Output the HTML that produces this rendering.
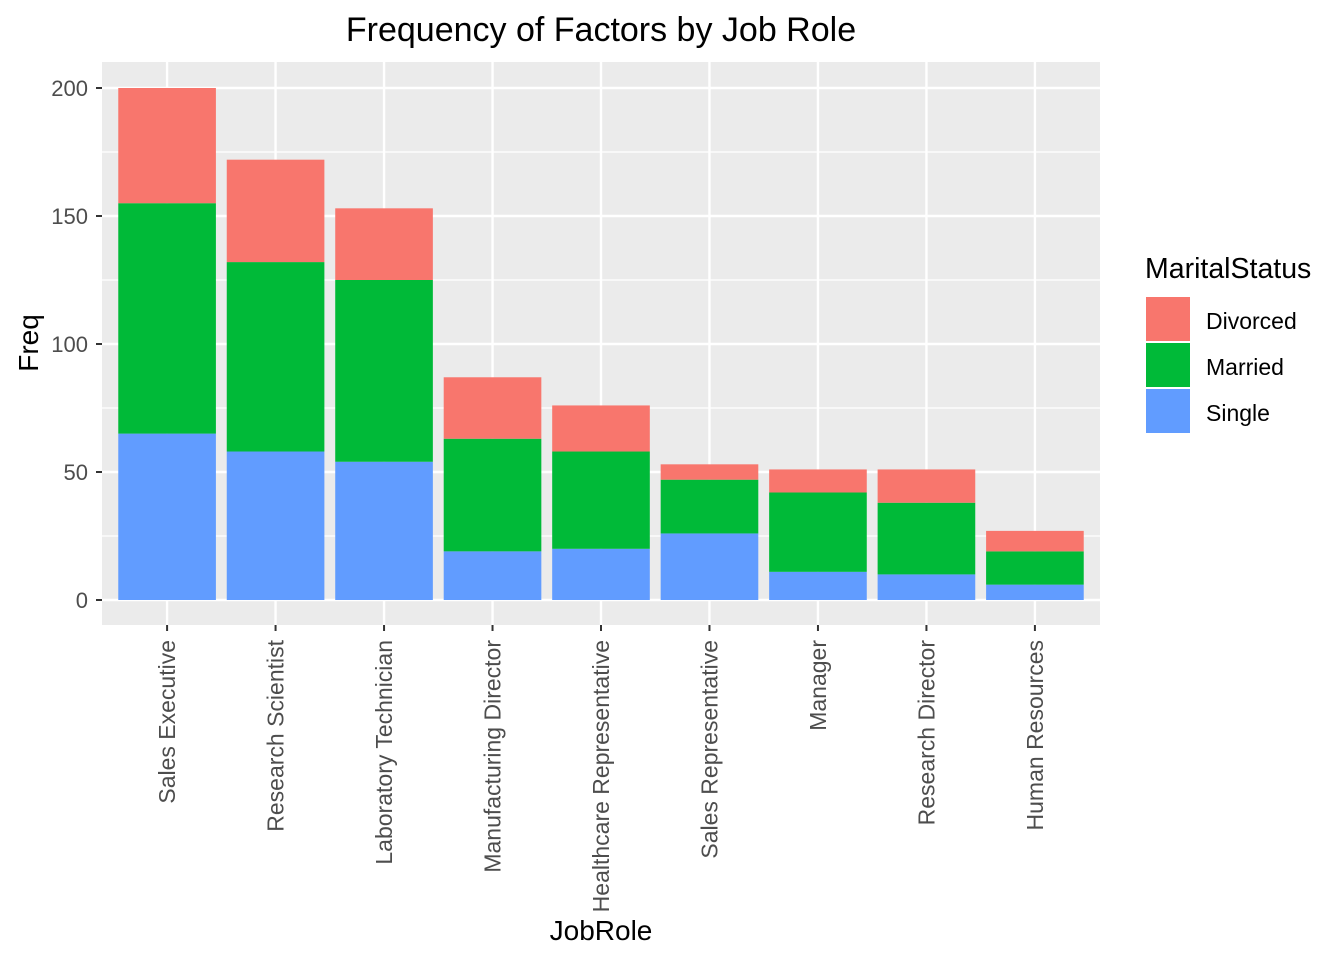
<!DOCTYPE html>
<html><head><meta charset="utf-8"><style>
body{margin:0;background:#fff;font-family:"Liberation Sans",Arial,sans-serif;}
</style></head><body>
<svg id="chart" width="1344" height="960" xmlns="http://www.w3.org/2000/svg">
<text x="601" y="41" text-anchor="middle" font-size="34" fill="#000">Frequency of Factors by Job Role</text>
<rect x="102" y="62" width="998" height="563" fill="#ebebeb"/>
<g id="grid"></g>
<g id="bars"></g>
<g id="axes"></g>
<text x="601" y="940" text-anchor="middle" font-size="28" fill="#000">JobRole</text>
<text transform="translate(38,343) rotate(-90)" text-anchor="middle" font-size="28" fill="#000">Freq</text>
<g>
<text x="1145" y="278" font-size="28.5" fill="#000">MaritalStatus</text>
<rect x="1146" y="297" width="44" height="44" fill="#f8766d"/>
<text x="1206" y="329" font-size="23">Divorced</text>
<rect x="1146" y="343" width="44" height="44" fill="#00ba38"/>
<text x="1206" y="375" font-size="23">Married</text>
<rect x="1146" y="389" width="44" height="44" fill="#619cff"/>
<text x="1206" y="421" font-size="23">Single</text>
</g>
</svg>
<script>
const categories=["Sales Executive","Research Scientist","Laboratory Technician","Manufacturing Director","Healthcare Representative","Sales Representative","Manager","Research Director","Human Resources"];
const single=[65,58,54,19,20,26,11,10,6];
const married=[90,74,71,44,38,21,31,28,13];
const divorced=[45,40,28,24,18,6,9,13,8];
const yTicks=[0,50,100,150,200];
const NS="http://www.w3.org/2000/svg";
const px0=102,pw=998,py0=62,ph=563;
function y(v){return 600-v*2.56;}
function xc(i){return px0+pw*(i+0.6)/(categories.length+0.2);}
const bw=pw/(categories.length+0.2)*0.9;
function mk(tag,attrs,parent){const e=document.createElementNS(NS,tag);for(const k in attrs)e.setAttribute(k,attrs[k]);parent.appendChild(e);return e;}
const grid=document.getElementById('grid'),bars=document.getElementById('bars'),axes=document.getElementById('axes');
for(let i=0;i<yTicks.length-1;i++){const v=(yTicks[i]+yTicks[i+1])/2;
const l=mk('line',{x1:px0,x2:px0+pw,y1:y(v),y2:y(v),stroke:'#fff','stroke-width':1.2},grid);

}
yTicks.forEach(v=>{const l=mk('line',{x1:px0,x2:px0+pw,y1:y(v),y2:y(v),stroke:'#fff','stroke-width':2.4},grid);


const t=mk('text',{x:88,y:y(v)+8,'text-anchor':'end','font-size':22,fill:'#4d4d4d'},axes);t.textContent=v;


const tk=mk('line',{x1:96,x2:102,y1:y(v),y2:y(v),stroke:'#333','stroke-width':2},axes);

});
categories.forEach((c,i)=>{const x=xc(i);
const l=mk('line',{x1:x,x2:x,y1:py0,y2:py0+ph,stroke:'#fff','stroke-width':2.4},grid);


const segs=[[0,single[i],'#619cff','single'],[single[i],single[i]+married[i],'#00ba38','married'],[single[i]+married[i],single[i]+married[i]+divorced[i],'#f8766d','divorced']];
segs.forEach(s=>{const r=mk('rect',{x:x-bw/2,y:y(s[1]),width:bw,height:y(s[0])-y(s[1]),fill:s[2]},bars);

});
const tk=mk('line',{x1:x,x2:x,y1:625,y2:631,stroke:'#333','stroke-width':2},axes);


const t=mk('text',{transform:`translate(${x+8},640) rotate(-90)`,'text-anchor':'end','font-size':23,fill:'#4d4d4d'},axes);t.textContent=c;

});
</script>
</body></html>
